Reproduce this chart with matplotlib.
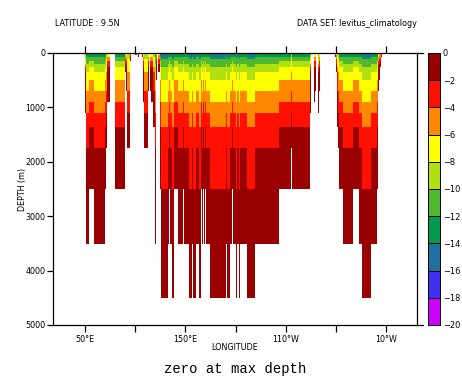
import numpy as np
import matplotlib
matplotlib.use("Agg")
import matplotlib.pyplot as plt
from matplotlib.colors import ListedColormap, BoundaryNorm
from matplotlib.lines import Line2D

# depth cell edges (m)
depth_edges = [0, 37, 74, 110, 147, 202, 257, 350, 496, 698, 900, 1103, 1360, 1746, 2500, 3511, 4504]
# colour class per depth cell from the surface, keyed by index of the deepest wet cell
profiles = {
    15: "7765554433221100",
    14: "665554433221100",
    13: "66554433221100",
    12: "4443333221100",
    11: "443333211000",
    10: "54433210000",
    9: "3322110000",
    8: "332211000",
    7: "32211000",
    6: "3221100",
    5: "221100",
    3: "2100",
    1: "10",
    0: "0",
}
lon_west = [50, 51, 54, 59, 70, 71, 72, 80, 90, 91, 92, 95, 100, 103, 107, 108, 109, 113, 115, 116, 118, 120, 121, 123, 125,
            126, 133, 134, 135, 137, 139, 143, 148, 149, 154, 157, 158, 160, 163, 165, 166, 167, 168, 169, 170, 174, 190, 191,
            194, 196, 197, 200, 201, 203, 204, 211, 219, 243, 255, 256, 274, 278, 279, 282, 283,
            299, 300, 301, 302, 303, 307, 317, 323, 326, 335, 341, 342, 343, 344, 345]
lon_east = [51, 54, 59, 70, 71, 72, 75, 90, 91, 92, 95, 96, 102, 104, 108, 109, 113, 114, 116, 118, 120, 121, 122, 125, 126,
            133, 134, 135, 137, 139, 143, 148, 149, 154, 157, 158, 160, 163, 165, 166, 167, 168, 169, 170, 174, 190, 191, 194,
            196, 197, 200, 201, 203, 204, 211, 219, 243, 255, 256, 274, 275, 279, 280, 283, 284,
            300, 301, 302, 303, 307, 317, 323, 326, 335, 341, 342, 343, 344, 345, 346]
bottom_cell = [10, 14, 13, 14, 13, 12, 9, 13, 6, 8, 12, 3, 0, 1, 1, 9, 12, 8, 8, 9, 11, 14, 7, 6, 13,
               15, 14, 13, 14, 15, 13, 14, 13, 14, 15, 14, 15, 14, 15, 13, 14, 13, 14, 13, 14, 15, 14, 15,
               14, 13, 14, 15, 14, 15, 14, 15, 14, 13, 12, 13, 10, 9, 8, 10, 8,
               1, 6, 11, 12, 13, 14, 13, 14, 15, 14, 13, 8, 7, 5, 1]
levels = list(range(-20, 1, 2))
colors = ["#CC00FF", "#4030F0", "#2070A0", "#009A50", "#50B830",
          "#B0E010", "#FFFF00", "#FF8800", "#FF1000", "#990000"]
x_ticks = [50, 100, 150, 200, 250, 300, 350]
x_labels = ["50\u00b0E", "", "150\u00b0E", "", "110\u00b0W", "", "10\u00b0W"]
y_ticks = [0, 1000, 2000, 3000, 4000, 5000]

W, H = 462, 388
fig = plt.figure(figsize=(W / 100, H / 100), dpi=100, facecolor="white")
ax = fig.add_axes([53 / W, (H - 325) / H, 364 / W, 272 / H])

lon_edges = np.arange(50, 347)
Z = np.full((len(depth_edges) - 1, len(lon_edges) - 1), np.nan)
for w, e, b in zip(lon_west, lon_east, bottom_cell):
    for r, c in enumerate(profiles[b]):
        Z[r, w - 50:e - 50] = -2 * int(c) - 1
cmap = ListedColormap(colors)
norm = BoundaryNorm(levels, cmap.N)
ax.pcolormesh(lon_edges, depth_edges, np.ma.masked_invalid(Z), cmap=cmap, norm=norm,
              shading="flat", antialiased=False, linewidth=0)
ax.set_xlim(18.2, 380.4)
ax.set_ylim(5000, 0)

fs = 5.75
ax.set_xticks(x_ticks, x_labels, fontsize=fs)
ax.set_yticks(y_ticks, [str(v) for v in y_ticks], fontsize=fs)
ax.tick_params(axis="x", which="both", top=True, direction="out", length=5, width=0.9, pad=2)
ax.tick_params(axis="y", direction="out", length=4, width=0.9, pad=1.5)
for s in ax.spines.values():
    s.set_linewidth(0.9)
fig.text(22 / W, 1 - 189 / H, "DEPTH (m)", fontsize=fs, rotation=90, ha="center", va="center")
fig.text(235 / W, 1 - 348 / H, "LONGITUDE", fontsize=fs, ha="center", va="center")
fig.text(55 / W, 1 - 23 / H, "LATITUDE : 9.5N", fontsize=fs, ha="left", va="center")
fig.text(417 / W, 1 - 23 / H, "DATA SET: levitus_climatology", fontsize=fs, ha="right", va="center")
fig.text(235 / W, 1 - 369 / H, "zero at max depth", fontsize=10, family="Liberation Mono",
         ha="center", va="center", fontweight="normal")

# frame stubs running from the plot to the colour bar
for y in (53, 325):
    fig.add_artist(Line2D([417 / W, 423 / W], [1 - y / H] * 2, color="black", lw=0.9))

cax = fig.add_axes([428 / W, (H - 325) / H, 12 / W, 272 / H])
cax.pcolormesh([0, 1], levels, np.array(levels[:-1]).reshape(-1, 1) + 1, cmap=cmap, norm=norm)
cax.set_ylim(-20, 0)
cax.set_xticks([])
cax.yaxis.tick_right()
cax.set_yticks(levels, [f"\u2212{abs(v)}" if v else "0" for v in levels], fontsize=fs + 0.2)
cax.tick_params(axis="y", length=0, pad=2)
for v in levels[1:-1]:
    cax.axhline(v, color="black", lw=0.7)
for s in cax.spines.values():
    s.set_linewidth(0.7)

fig.savefig("out.png", dpi=100)
